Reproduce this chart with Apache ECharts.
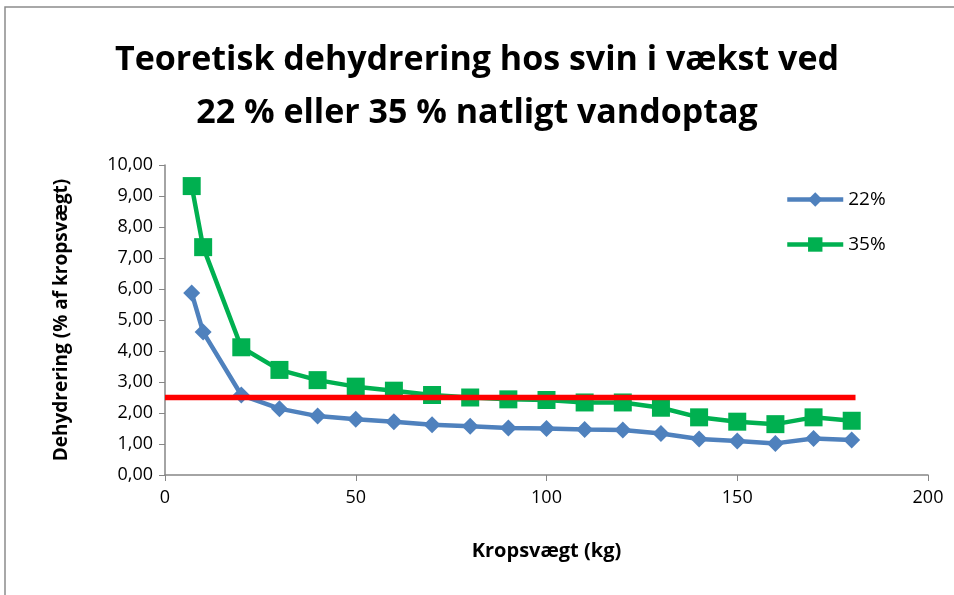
<!DOCTYPE html>
<html>
<head>
<meta charset="utf-8">
<script src="https://cdn.jsdelivr.net/npm/echarts@6/dist/echarts.min.js"></script>
<style>
  html, body { margin: 0; padding: 0; background: #fff; }
  #chart { width: 954px; height: 595px; }
</style>
</head>
<body>
<div id="chart"></div>
<script>
// kropsvægt (kg)
const weights = [7, 10, 20, 30, 40, 50, 60, 70, 80, 90, 100, 110, 120, 130, 140, 150, 160, 170, 180]
// dehydrering, % af kropsvægt
const water22 = [5.87, 4.61, 2.58, 2.14, 1.9, 1.8, 1.72, 1.62, 1.57, 1.52, 1.5, 1.47, 1.45, 1.34, 1.16, 1.1, 1.02, 1.18, 1.13]
const water35 = [9.32, 7.35, 4.12, 3.39, 3.06, 2.85, 2.72, 2.58, 2.5, 2.44, 2.42, 2.34, 2.34, 2.17, 1.86, 1.72, 1.64, 1.86, 1.75]
// grænse
const limitX = [0, 181]
const limitY = [2.5, 2.5]

const pair = (xs, ys) => xs.map((x, i) => [x, ys[i]])

const chart = echarts.init(document.getElementById('chart'))
chart.setOption({
  backgroundColor: '#fff',
  animation: false,
  title: {
    text: 'Teoretisk dehydrering hos svin i vækst ved\n22 % eller 35 % natligt vandoptag',
    left: 'center',
    top: 29,
    textStyle: {
      fontFamily: 'Open Sans',
      fontWeight: 'bold',
      fontSize: 34,
      lineHeight: 53,
      color: '#000'
    }
  },
  graphic: [{
    type: 'rect',
    shape: { x: 5, y: 7, width: 1000, height: 1000 },
    style: { fill: null, stroke: '#8c8c8c', lineWidth: 1.5 },
    silent: true
  }],
  grid: { left: 165, right: 26, top: 165, bottom: 120 },
  legend: {
    orient: 'vertical',
    left: 780,
    top: 185,
    itemGap: 26,
    itemWidth: 56,
    itemHeight: 18,
    data: ['22%', '35%'],
    lineStyle: { width: 4.5 },
    textStyle: { fontFamily: 'Open Sans', fontSize: 19, color: '#000' }
  },
  xAxis: {
    type: 'value',
    min: 0,
    max: 200,
    interval: 50,
    name: 'Kropsvægt (kg)',
    nameLocation: 'middle',
    nameGap: 66,
    nameTextStyle: { fontFamily: 'Open Sans', fontWeight: 'bold', fontSize: 20, color: '#000' },
    axisLine: { lineStyle: { color: '#868686', width: 1.5 } },
    axisTick: { show: true, length: 6, lineStyle: { color: '#868686' } },
    axisLabel: { fontFamily: 'Open Sans', fontSize: 18, color: '#000', margin: 14 },
    splitLine: { show: false }
  },
  yAxis: {
    type: 'value',
    min: 0,
    max: 10,
    interval: 1,
    name: 'Dehydrering (% af kropsvægt)',
    nameLocation: 'middle',
    nameGap: 94,
    nameTextStyle: { fontFamily: 'Open Sans', fontWeight: 'bold', fontSize: 19, color: '#000' },
    axisLine: { show: true, lineStyle: { color: '#868686', width: 1.5 } },
    axisTick: { show: true, length: 6, lineStyle: { color: '#868686' } },
    axisLabel: {
      fontFamily: 'Open Sans',
      fontSize: 18,
      color: '#000',
      margin: 12,
      formatter: v => v.toFixed(2).replace('.', ',')
    },
    splitLine: { show: false }
  },
  series: [
    {
      name: '22%',
      type: 'line',
      data: pair(weights, water22),
      symbol: 'diamond',
      symbolSize: 17,
      lineStyle: { color: '#4F81BD', width: 4.5 },
      itemStyle: { color: '#4F81BD' },
      z: 3
    },
    {
      name: '35%',
      type: 'line',
      data: pair(weights, water35),
      symbol: 'rect',
      symbolSize: 18,
      lineStyle: { color: '#00B050', width: 4.5 },
      itemStyle: { color: '#00B050' },
      z: 3
    },
    {
      name: 'grænse',
      type: 'line',
      data: pair(limitX, limitY),
      symbol: 'none',
      lineStyle: { color: '#FF0000', width: 5.5 },
      z: 4
    }
  ]
})
</script>
</body>
</html>
